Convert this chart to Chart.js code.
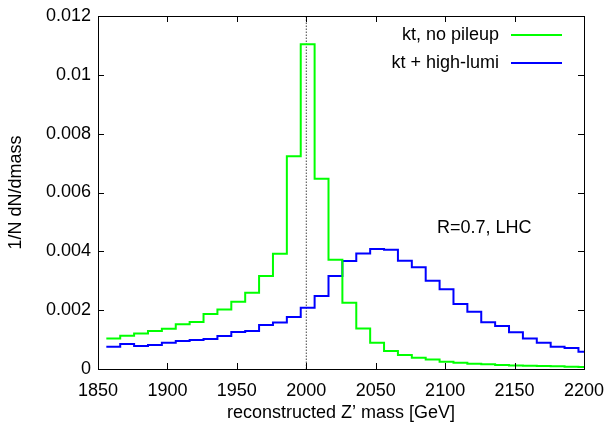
<!DOCTYPE html>
<html>
<head>
<meta charset="utf-8">
<script src="https://cdn.jsdelivr.net/npm/chart.js@4.4.0/dist/chart.umd.min.js"></script>
<style>
  html, body { margin: 0; padding: 0; background: #fff; }
  #wrap { width: 610px; height: 426px; }
</style>
</head>
<body>
<div id="wrap"><canvas id="massChart" width="610" height="426"></canvas></div>
<script>
// Histogram bin edges (GeV), last entry closes the final bin
const binEdges = [1856, 1866, 1876, 1886, 1896, 1906, 1916, 1926, 1936, 1946,
                  1956, 1966, 1976, 1986, 1996, 2006, 2016, 2026, 2036, 2046,
                  2056, 2066, 2076, 2086, 2096, 2106, 2116, 2126, 2136, 2146,
                  2156, 2166, 2176, 2186, 2196, 2206];

// kt, no pileup
const noPileup = [0.00104, 0.00113, 0.00121, 0.00129, 0.00137, 0.00152, 0.00160, 0.00187, 0.00202, 0.00229,
                  0.00259, 0.00316, 0.00392, 0.00723, 0.01104, 0.00647, 0.00371, 0.00225, 0.00138, 0.00089,
                  0.00061, 0.00048, 0.00038, 0.00032, 0.00025, 0.00021, 0.00018, 0.00016, 0.00014, 0.00012,
                  0.00011, 0.00010, 0.00009, 0.00008, 0.00007];

// kt + high-lumi
const highLumi = [0.00076, 0.00085, 0.00078, 0.00082, 0.00089, 0.00095, 0.00099, 0.00102, 0.00112, 0.00126,
                  0.00129, 0.00150, 0.00158, 0.00177, 0.00208, 0.00248, 0.00316, 0.00367, 0.00393, 0.00408,
                  0.00405, 0.00368, 0.00346, 0.00300, 0.00271, 0.00221, 0.00195, 0.00159, 0.00146, 0.00125,
                  0.00104, 0.00089, 0.00076, 0.00071, 0.00059];

const seriesLabels = ['kt, no pileup', 'kt + high-lumi'];
const seriesColors = ['#00ff00', '#0000ff'];

const xTicks = [1850, 1900, 1950, 2000, 2050, 2100, 2150, 2200];
const yTicks = [0, 0.002, 0.004, 0.006, 0.008, 0.01, 0.012];
const markerMass = 2000;

const FONT = 'Liberation Sans, Arial, Helvetica, sans-serif';
const FSIZE = 18;

// step points: with 'before' stepping the segment after edge i sits at point i's value
function toSteps(values) {
    return binEdges.map((x, i) => ({ x: x, y: values[Math.min(i, values.length - 1)] }));
}

// gnuplot style frame with inward ticks on all sides, plus legend and label
const framePlugin = {
    id: 'framePlugin',
    afterDatasetsDraw(chart) {
        const { ctx, chartArea: a, scales } = chart;
        ctx.save();
        ctx.strokeStyle = '#000';
        ctx.lineWidth = 1;
        ctx.beginPath();
        xTicks.forEach(v => {
            const px = Math.round(scales.x.getPixelForValue(v)) + 0.5;
            ctx.moveTo(px, a.bottom); ctx.lineTo(px, a.bottom - 6);
            ctx.moveTo(px, a.top); ctx.lineTo(px, a.top + 6);
        });
        yTicks.forEach(v => {
            const py = Math.round(scales.y.getPixelForValue(v)) + 0.5;
            ctx.moveTo(a.left, py); ctx.lineTo(a.left + 6, py);
            ctx.moveTo(a.right, py); ctx.lineTo(a.right - 6, py);
        });
        ctx.stroke();
        ctx.strokeRect(Math.round(a.left) + 0.5, Math.round(a.top) + 0.5,
                       Math.round(a.right - a.left), Math.round(a.bottom - a.top));

        // legend: text right aligned, line sample on the right
        ctx.font = FSIZE + 'px ' + FONT;
        ctx.textAlign = 'right';
        ctx.textBaseline = 'middle';
        seriesLabels.forEach((lab, i) => {
            const y = 35 + i * 28;
            ctx.fillStyle = '#000';
            ctx.fillText(lab, 499, y);
            ctx.strokeStyle = seriesColors[i];
            ctx.lineWidth = 2;
            ctx.beginPath();
            ctx.moveTo(511, y); ctx.lineTo(562, y);
            ctx.stroke();
        });

        ctx.textAlign = 'left';
        ctx.fillStyle = '#000';
        ctx.fillText('R=0.7, LHC', 437, 228);
        ctx.restore();
    }
};

const ctx = document.getElementById('massChart').getContext('2d');
new Chart(ctx, {
    type: 'line',
    data: {
        datasets: [
            {
                label: seriesLabels[0],
                data: toSteps(noPileup),
                borderColor: seriesColors[0],
                borderWidth: 2,
                stepped: 'before',
                pointRadius: 0,
                fill: false,
                clip: { left: 1, top: 1, right: 0, bottom: 1 }
            },
            {
                label: seriesLabels[1],
                data: toSteps(highLumi),
                borderColor: seriesColors[1],
                borderWidth: 2,
                stepped: 'before',
                pointRadius: 0,
                fill: false,
                clip: { left: 1, top: 1, right: 0, bottom: 1 }
            },
            {
                label: 'marker',
                data: [{ x: markerMass, y: yTicks[0] }, { x: markerMass, y: yTicks[yTicks.length - 1] }],
                borderColor: '#444',
                borderWidth: 1,
                borderDash: [1.5, 1.5],
                pointRadius: 0,
                fill: false
            }
        ]
    },
    options: {
        responsive: false,
        animation: false,
        devicePixelRatio: 1,
        layout: { padding: { left: 0, right: 26, top: 16, bottom: 0 } },
        plugins: {
            legend: { display: false },
            tooltip: { enabled: false }
        },
        scales: {
            x: {
                type: 'linear',
                min: 1850,
                max: 2200,
                afterFit: s => { s.height = 57; s.paddingLeft = 0; s.paddingRight = 0; },
                afterBuildTicks: s => { s.ticks = xTicks.map(v => ({ value: v })); },
                grid: { display: false, drawTicks: false },
                border: { display: false },
                ticks: {
                    color: '#000',
                    font: { family: FONT, size: FSIZE },
                    padding: 11,
                    maxRotation: 0,
                    autoSkip: false,
                    callback: v => String(v)
                },
                title: {
                    display: true,
                    text: 'reconstructed Z’ mass [GeV]',
                    color: '#000',
                    font: { family: FONT, size: FSIZE },
                    padding: { top: 0, bottom: 2 }
                }
            },
            y: {
                min: 0,
                max: 0.012,
                afterFit: s => { s.width = 98; s.paddingTop = 0; s.paddingBottom = 0; },
                afterBuildTicks: s => { s.ticks = yTicks.map(v => ({ value: v })); },
                grid: { display: false, drawTicks: false },
                border: { display: false },
                ticks: {
                    color: '#000',
                    font: { family: FONT, size: FSIZE },
                    padding: 7,
                    callback: v => String(Number(v.toFixed(3)))
                },
                title: {
                    display: true,
                    text: '1/N dN/dmass',
                    color: '#000',
                    font: { family: FONT, size: FSIZE },
                    padding: { top: 5, bottom: 0 }
                }
            }
        }
    },
    plugins: [framePlugin]
});
</script>
</body>
</html>
